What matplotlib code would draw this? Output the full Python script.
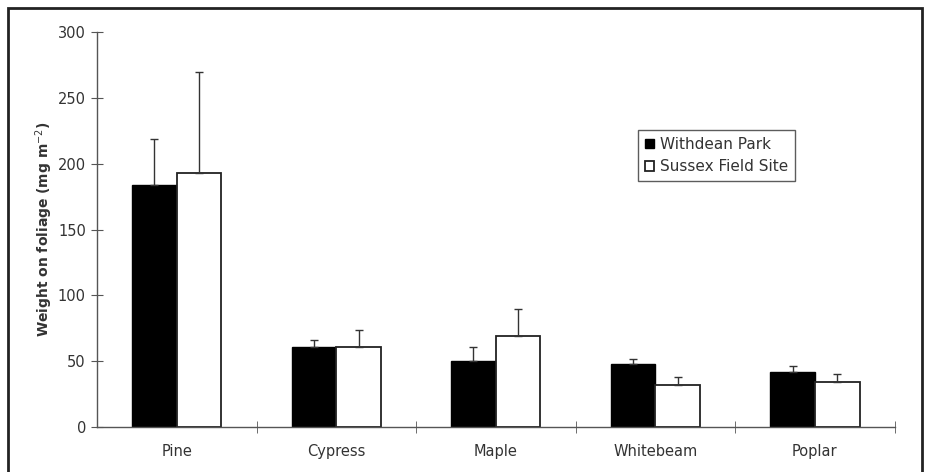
import matplotlib.pyplot as plt
import numpy as np
from matplotlib.patches import Rectangle

plt.rcParams['font.family'] = ['DejaVu Sans']

species = ['Pine', 'Cypress', 'Maple', 'Whitebeam', 'Poplar']
withdean = [184, 61, 50, 48, 42]
withdean_err = [35, 5, 11, 4, 4]
sussex = [193, 61, 69, 32, 34]
sussex_err = [77, 13, 21, 6, 6]
series_names = ['Withdean Park', 'Sussex Field Site']
yticks = [0, 50, 100, 150, 200, 250, 300]

fig = plt.figure(figsize=(9.29, 4.72), dpi=100)
ax = fig.add_axes([0.1044, 0.0953, 0.8586, 0.8369])

x = np.arange(len(species))
w = 0.28
err_kw = dict(ecolor='#333333', elinewidth=1.0, capsize=3, capthick=1.0)
ax.bar(x - w / 2, withdean, w, color='black', edgecolor='black', linewidth=1.0,
       yerr=[np.zeros(len(species)), withdean_err], error_kw=err_kw, label=series_names[0])
ax.bar(x + w / 2, sussex, w, color='white', edgecolor='#222222', linewidth=1.3,
       yerr=[np.zeros(len(species)), sussex_err], error_kw=err_kw, label=series_names[1])

ax.set_xlim(-0.5, len(species) - 0.5)
ax.set_ylim(0, 300)
ax.set_yticks(yticks)
ax.set_xticks(x)
ax.set_xticklabels(species, fontsize=10.5, color='#333333')
ax.set_xticks(np.arange(len(species)) + 0.5, minor=True)
ax.tick_params(axis='x', which='major', length=0, pad=12)
ax.tick_params(axis='x', which='minor', direction='inout', length=8, color='#555555')
ax.tick_params(axis='y', direction='inout', length=8, color='#555555', labelsize=10.5,
               labelcolor='#333333', pad=4)

for s in ['top', 'right']:
    ax.spines[s].set_visible(False)
for s in ['left', 'bottom']:
    ax.spines[s].set_color('#555555')
    ax.spines[s].set_linewidth(1.0)

ax.set_ylabel('Weight on foliage (mg m$^{-2}$)', fontsize=10, fontweight='bold',
              color='#333333', labelpad=2)

leg = ax.legend(loc='upper left', bbox_to_anchor=(0.678, 0.752), fontsize=11,
                frameon=True, fancybox=False, edgecolor='#333333', handlelength=0.6,
                handleheight=0.6, handletextpad=0.4, borderpad=0.45, labelspacing=0.5,
                borderaxespad=0)
leg.get_frame().set_linewidth(1.0)
for t in leg.get_texts():
    t.set_color('#333333')

fig.patches.append(Rectangle((8 / 929, -0.05), 914 / 929, 1 - 8 / 472 + 0.05,
                             transform=fig.transFigure, fill=False,
                             edgecolor='#222222', linewidth=2))

fig.savefig('out.png', dpi=100)
